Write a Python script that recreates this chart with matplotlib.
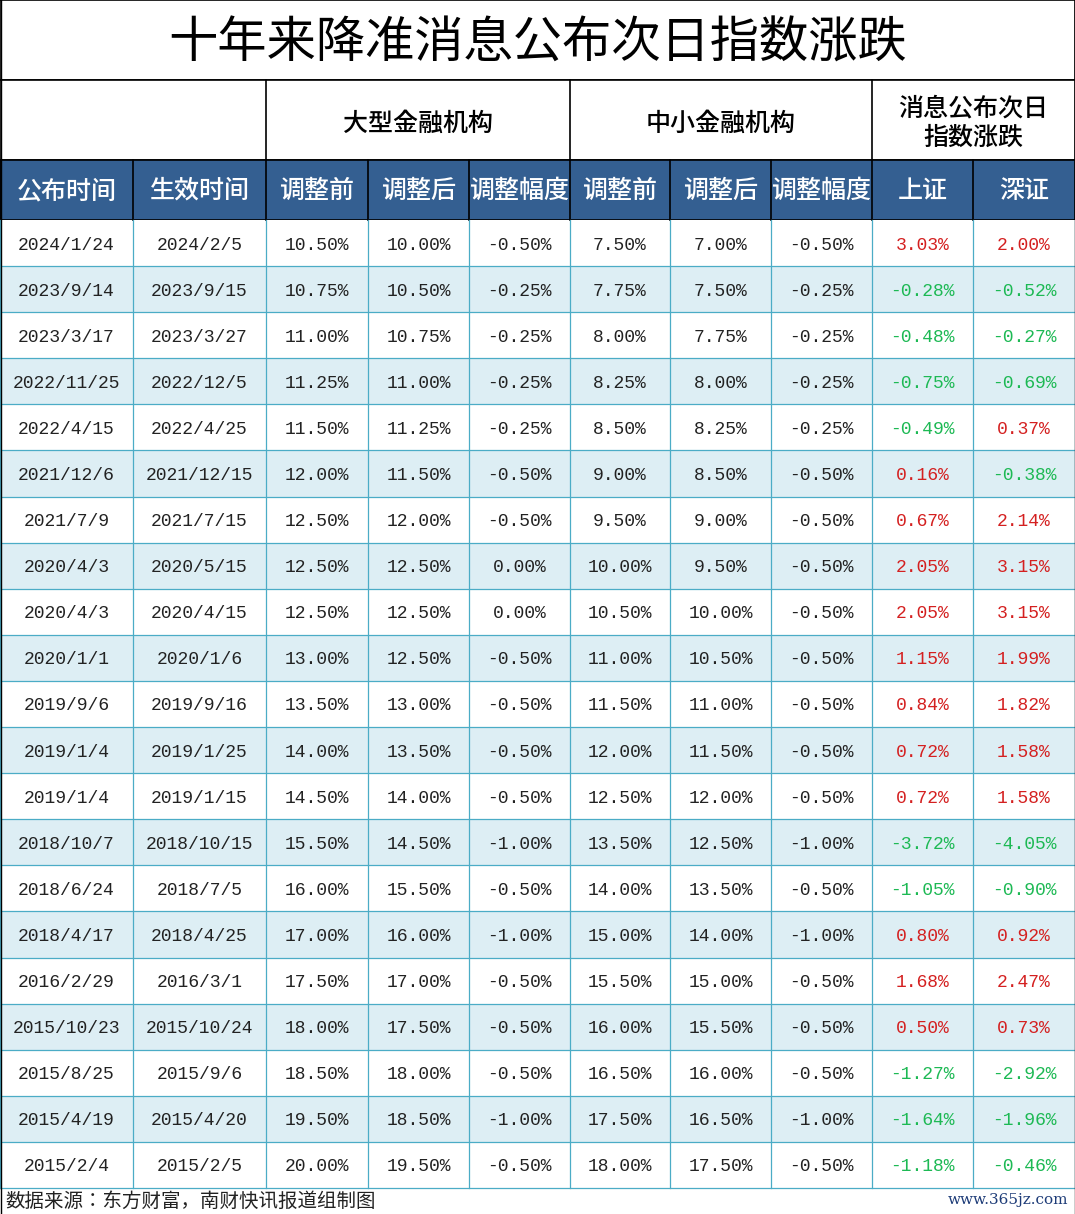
import matplotlib
matplotlib.use("Agg")
import matplotlib.pyplot as plt
from matplotlib.patches import Rectangle
from matplotlib import font_manager as fm

names = {f.name for f in fm.fontManager.ttflist}
cands = [n for n in ["Noto Sans CJK SC", "Noto Sans CJK JP", "Noto Sans CJK TC", "Noto Sans CJK KR", "Noto Sans SC", "Noto Serif CJK SC"] if n in names]
if not cands:
    cands = [n for n in names if "CJK" in n] or ["DejaVu Sans"]
FONT = cands + ["DejaVu Sans"]
NUMFONT = "Liberation Mono"

title = "十年来降准消息公布次日指数涨跌"
group_headers = ["大型金融机构", "中小金融机构", "消息公布次日\n指数涨跌"]
col_headers = ["公布时间", "生效时间", "调整前", "调整后", "调整幅度", "调整前", "调整后", "调整幅度", "上证", "深证"]
announce = ["2024/1/24","2023/9/14","2023/3/17","2022/11/25","2022/4/15","2021/12/6","2021/7/9","2020/4/3","2020/4/3","2020/1/1","2019/9/6","2019/1/4","2019/1/4","2018/10/7","2018/6/24","2018/4/17","2016/2/29","2015/10/23","2015/8/25","2015/4/19","2015/2/4"]
effective = ["2024/2/5","2023/9/15","2023/3/27","2022/12/5","2022/4/25","2021/12/15","2021/7/15","2020/5/15","2020/4/15","2020/1/6","2019/9/16","2019/1/25","2019/1/15","2018/10/15","2018/7/5","2018/4/25","2016/3/1","2015/10/24","2015/9/6","2015/4/20","2015/2/5"]
large_before = [10.50,10.75,11.00,11.25,11.50,12.00,12.50,12.50,12.50,13.00,13.50,14.00,14.50,15.50,16.00,17.00,17.50,18.00,18.50,19.50,20.00]
large_after = [10.00,10.50,10.75,11.00,11.25,11.50,12.00,12.50,12.50,12.50,13.00,13.50,14.00,14.50,15.50,16.00,17.00,17.50,18.00,18.50,19.50]
large_chg = [-0.50,-0.25,-0.25,-0.25,-0.25,-0.50,-0.50,0.00,0.00,-0.50,-0.50,-0.50,-0.50,-1.00,-0.50,-1.00,-0.50,-0.50,-0.50,-1.00,-0.50]
small_before = [7.50,7.75,8.00,8.25,8.50,9.00,9.50,10.00,10.50,11.00,11.50,12.00,12.50,13.50,14.00,15.00,15.50,16.00,16.50,17.50,18.00]
small_after = [7.00,7.50,7.75,8.00,8.25,8.50,9.00,9.50,10.00,10.50,11.00,11.50,12.00,12.50,13.50,14.00,15.00,15.50,16.00,16.50,17.50]
small_chg = [-0.50,-0.25,-0.25,-0.25,-0.25,-0.50,-0.50,-0.50,-0.50,-0.50,-0.50,-0.50,-0.50,-1.00,-0.50,-1.00,-0.50,-0.50,-0.50,-1.00,-0.50]
shanghai = [3.03,-0.28,-0.48,-0.75,-0.49,0.16,0.67,2.05,2.05,1.15,0.84,0.72,0.72,-3.72,-1.05,0.80,1.68,0.50,-1.27,-1.64,-1.18]
shenzhen = [2.00,-0.52,-0.27,-0.69,0.37,-0.38,2.14,3.15,3.15,1.99,1.82,1.58,1.58,-4.05,-0.90,0.92,2.47,0.73,-2.92,-1.96,-0.46]
source = "数据来源：东方财富，南财快讯报道组制图"
watermark = "www.365jz.com"

W, H = 1075, 1214
fig = plt.figure(figsize=(W/100, H/100), dpi=100)
ax = fig.add_axes([0, 0, 1, 1])
ax.set_xlim(0, W); ax.set_ylim(H, 0); ax.axis("off")

xs = [0, 133, 266, 368, 469, 570, 670, 771, 872, 973, 1075]
BLUE = "#345F91"; LIGHT = "#DDEEF4"; GRID = "#4BACC6"
RED = "#D42020"; GREEN = "#1DB954"

ax.add_patch(Rectangle((0, 0), W, 80, fc="white", ec="black", lw=1.2))
ax.text(W/2, 44, title, fontsize=35.5, fontfamily=FONT, ha="center", va="center")
ax.add_patch(Rectangle((0, 80), W, 80, fc="white", ec="black", lw=1.2))
for gx in [266, 570, 872]:
    ax.plot([gx, gx], [80, 160], color="black", lw=1.2)
ax.text(418, 124, group_headers[0], fontsize=18, fontfamily=FONT, fontweight="medium", ha="center", va="center")
ax.text(721, 124, group_headers[1], fontsize=18, fontfamily=FONT, fontweight="medium", ha="center", va="center")
ax.text(973, 123, group_headers[2], fontsize=18, fontfamily=FONT, fontweight="medium", ha="center", va="center", linespacing=1.2)
ax.add_patch(Rectangle((0, 160), W, 60, fc=BLUE, ec="black", lw=1.2))
for i, h in enumerate(col_headers):
    ax.plot([xs[i], xs[i]], [160, 220], color="black", lw=1.2)
    ax.text((xs[i]+xs[i+1])/2, 191, h, fontsize=18, fontfamily=FONT, fontweight="medium", color="white", ha="center", va="center")

y0 = 220; rh = (1188 - 220) / len(announce)
def pct(v):
    return f"{v:.2f}%"
for r in range(len(announce)):
    top = y0 + r*rh
    ax.add_patch(Rectangle((0, top), W, rh, fc=LIGHT if r % 2 else "white", ec="none"))
    vals = [announce[r], effective[r], pct(large_before[r]), pct(large_after[r]), pct(large_chg[r]),
            pct(small_before[r]), pct(small_after[r]), pct(small_chg[r]), pct(shanghai[r]), pct(shenzhen[r])]
    for c, v in enumerate(vals):
        col = "#222222"
        if c == 8: col = RED if shanghai[r] > 0 else GREEN
        if c == 9: col = RED if shenzhen[r] > 0 else GREEN
        ax.text((xs[c]+xs[c+1])/2, top + rh/2 + 2, v, fontsize=13, fontfamily=NUMFONT, color=col,
                ha="center", va="center")
    ax.plot([0, W], [top+rh, top+rh], color=GRID, lw=0.9)
for x in xs:
    ax.plot([x, x], [220, 1188], color=GRID, lw=0.9)
ax.plot([0.5, 0.5], [0, H], color="black", lw=1); ax.plot([W-0.5, W-0.5], [0, H], color="black", lw=1)

ax.text(5, 1201, source, fontsize=14, fontfamily=FONT, ha="left", va="center", color="#222222")
ax.text(1068, 1200, watermark, fontsize=11, fontfamily="DejaVu Serif", ha="right", va="center", color="#1E3C78")

fig.savefig("out.png", dpi=100)
